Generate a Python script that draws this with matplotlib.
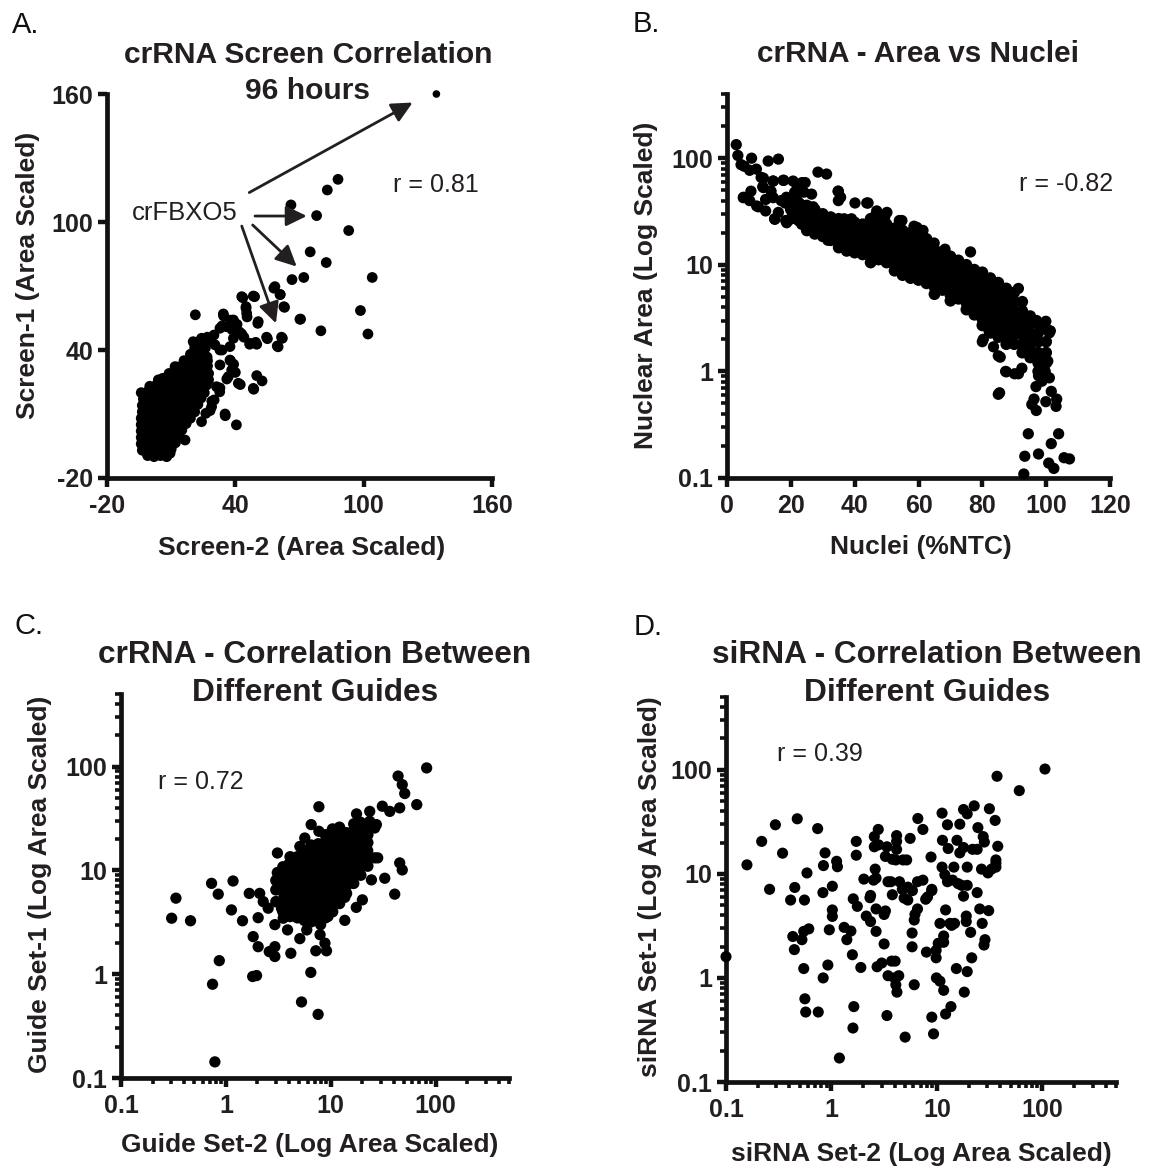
#!/usr/bin/env python3
"""
Four-panel scatter figure: crRNA / siRNA screen correlations.
"""

import numpy as np
import matplotlib
matplotlib.use("Agg")
import matplotlib.pyplot as plt
from matplotlib.ticker import LogLocator, NullFormatter

plt.rcParams['font.family'] = ['Liberation Sans', 'DejaVu Sans']
plt.rcParams['axes.unicode_minus'] = False

W, H = 1156, 1166
INK = '#231f20'

# ---------------- Panel A: Screen-1 vs Screen-2 (linear) ----------------
a_ticks = [-20, 40, 100, 160]
a_top_point = [(134, 160)]
a_outliers = [
    (88, 120), (83, 115), (66, 108), (78, 103), (93, 96), (75, 86), (82.5, 81),
    (66.5, 73), (72, 74), (104, 74), (58, 69), (61, 66), (43.5, 64.5), (49, 65),
    (63, 60), (45, 59.5), (21.3, 56.5), (34.5, 56), (70.5, 54.5), (98.5, 58.5),
    (39, 54), (45.5, 55.5), (50.5, 52.5), (80, 49), (102, 47.5), (55, 45.3),
    (62, 45.5), (60, 41.5), (50, 42.7), (46.7, 42.7), (44, 46), (42, 48.4),
    (37.7, 54), (40.8, 52), (38.4, 49.6), (33.8, 51.3), (30, 47), (28, 45.3),
    (25.2, 42.7), (20.8, 43.2), (23.6, 39.3), (26.8, 36.7), (33.8, 40), (37.7, 35),
    (39.2, 33.3), (36, 26.4), (42.3, 23.8), (32.7, 20.4), (50, 28), (52.5, 25.5),
    (48.6, 21.6), (29, 16), (35.3, 9.2), (40.5, 4.9), (19, 33.3), (23.6, 31.5),
    (11.6, 29.8), (20.3, 43.9), (24.2, 45.5), (11.8, 32.2), (19.1, 33.4), (6, 26.7),
    (32.8, 22.2), (35.2, 10), (28.2, 11.6), (48.4, 22), (41.4, 24.4), (43, 65),
    (48.4, 65.3), (58.5, 69.7), (60.9, 66), (62.7, 60.3), (70.2, 54.4), (34.4, 56.9),
    (39.1, 54), (35.9, 50.9), (45, 60.3), (45.3, 57.2), (50.7, 53.3), (54.6, 46),
    (61.6, 46), (59.6, 41.9), (49.5, 43.6), (46.9, 43.1), (43, 47.5), (39.1, 45.5),
    (32.8, 50.2), (37.5, 41.6), (32.8, 40), (30.5, 42.4), (26.9, 46), (37.5, 35.3),
    (38.3, 30.6), (32.8, 33), (40, 29.5), (36.7, 27.5), (31.2, 22.8), (30.1, 16.6),
    (28.9, 13.4), (26.2, 10.3), (24.2, 6.4), (16.5, -2.2), (9.5, -8.4), (7.9, -10),
]
a_core = [
    (-1, -9.5), (2, -10), (5, -9.5), (8, -9),
    (-3.5, -7), (-0.5, -7.5), (2.5, -7), (5.5, -6.5), (8, -7), (10, -6.5),
    (-4, -4), (-1, -4.5), (2, -4), (5, -3.5), (8, -4), (10.5, -4.5), (12, -3.5),
    (-4, -1), (-1, -0.5), (2, -1), (5, -1.5), (8, -1), (11, -0.5), (13.5, -1),
    (-4, 2), (-1, 2.5), (2, 2), (5, 1.5), (8, 2), (11, 2.5), (13, 2), (15, 2.5),
    (-4, 5), (-1, 5.5), (2, 5), (5, 4.5), (8, 5), (11, 5.5), (14, 5), (17, 5.5),
    (-4, 8), (-1, 8.5), (2, 8), (5, 7.5), (8, 8), (11, 8.5), (14, 8), (16.5, 8.5), (19, 8),
    (-3.5, 11), (-0.5, 11.5), (2.5, 11), (5.5, 10.5), (8.5, 11), (11.5, 11.5),
    (14.5, 11), (17.5, 11.5), (21, 11),
    (-3.5, 14), (-0.5, 14.5), (2.5, 14), (5.5, 13.5), (8.5, 14), (11.5, 14.5),
    (14.5, 14), (17.5, 14.5), (20, 14), (22.5, 14.5),
    (-3, 17), (0, 17.5), (3, 17), (6, 16.5), (9, 17), (12, 17.5), (15, 17),
    (18, 17.5), (21, 17), (24, 17.5),
    (-4, 20), (-1, 20.5), (2, 20), (5, 19.5), (8, 20), (11, 20.5), (14, 20),
    (17, 20.5), (20, 20), (23, 20.5), (25.5, 20),
    (0, 23), (3, 23.5), (6, 23), (9, 22.5), (12, 23), (15, 23.5), (18, 23),
    (21, 23.5), (24, 23), (26.5, 23.5),
    (4, 26), (7, 26.5), (10, 26), (13, 25.5), (16, 26), (19, 26.5), (22, 26),
    (25, 26.5), (27.5, 26),
    (9, 29), (12, 29.5), (15, 29), (18, 28.5), (21, 29), (24, 29.5), (27.5, 29),
    (13, 32), (16, 32.5), (19, 32), (22, 31.5), (25, 32), (27, 32.5),
    (16, 35), (19, 35.5), (22, 35), (25, 34.5), (27, 35),
    (19, 38), (22, 38.5), (25.5, 38),
    (21, 41), (24, 41.5), (26, 41),
    (23, 44), (27, 44.5),
]
a_arrows = [
    ((46.5, 113.8), (122.9, 156.0)),
    ((49.2, 102.8), (73.4, 102.8)),
    ((48.1, 98.6), (68.7, 79.1)),
    ((43.0, 98.1), (59.0, 52.5)),
]

# ---------------- Panel B: nuclear area vs nuclei ----------------
b_xticks = [0, 20, 40, 60, 80, 100, 120]
b_yticks = [0.1, 1, 10, 100]
b_outliers = [
    (2.9, 134), (3.4, 106), (4.4, 87), (5.4, 84), (7.1, 77), (7.7, 100), (9.2, 79),
    (12.9, 94), (16.1, 98), (10.7, 66), (11.2, 54), (14.4, 61), (17.8, 62),
    (5.2, 43), (7.5, 49), (7.1, 40), (9.8, 35), (12.1, 41), (13.8, 49), (12.1, 32),
    (14.9, 27), (16.1, 31), (17, 40), (18.6, 43), (18.4, 26), (20.7, 61), (21.2, 48),
    (20.7, 38), (23, 37), (23.5, 59), (24.1, 48), (22, 31), (24.1, 31), (23.9, 24),
    (25.8, 28), (27, 35), (28.5, 74), (31.2, 71), (28.7, 27), (29.3, 23), (29.9, 29),
    (32.1, 24), (34.4, 25), (34.8, 49), (35.6, 43), (36.7, 27), (39, 27), (31.6, 17),
    (34.4, 18), (44.2, 38), (46.5, 29), (49.4, 28), (54, 26), (46.9, 25), (58.6, 23),
    (61.4, 21), (64.9, 16), (76.3, 13.2), (68.3, 14), (72.9, 10.4), (79.2, 5.8),
    (91.3, 6.0), (82.1, 2.4), (80, 1.9), (85, 1.4), (85, 0.61), (87.3, 1.0),
    (90.1, 0.95), (92.4, 1.07), (97, 3.0), (101, 2.3), (99.9, 2.95), (96.4, 2.16),
    (99.3, 1.3), (100.5, 1.25), (97.6, 0.91), (99.7, 1.0), (101, 0.87), (98.7, 0.81),
    (96.8, 0.72), (101.6, 0.65), (96.2, 0.55), (95.5, 0.49), (96.9, 0.43), (99.9, 0.52),
    (103.3, 0.55), (103.1, 0.47), (94.4, 0.26), (103.9, 0.26), (101.6, 0.21),
    (93.3, 0.16), (97.6, 0.168), (100.8, 0.138), (102.4, 0.123), (105.6, 0.155),
    (107.3, 0.151), (93, 0.109),
    (11.4, 65), (14.5, 61), (17.6, 62), (24.5, 59), (26.5, 46), (34.9, 49), (34.9, 40),
    (40.1, 38), (43.8, 38), (46.9, 32), (50.1, 31), (54.8, 26), (59.5, 22.4), (61, 20.8),
    (5.1, 42.6), (9.3, 35.6), (11.4, 53), (14.5, 42.6), (15, 26.7), (18.7, 24.8),
    (18.2, 38), (21.8, 41), (21.8, 57), (23.9, 34), (27, 33), (29.2, 22), (31.8, 17.4),
    (23.4, 24), (101.3, 2.4), (80.3, 2.0), (83.5, 1.7), (85.6, 1.36), (87.5, 0.99),
    (85.4, 0.63), (91.3, 0.95),
]
b_band = [
    (20, [40, 33, 27]),
    (22.5, [38, 31, 26]),
    (25, [36, 30, 25, 21]),
    (27.5, [33, 28, 23, 19.5]),
    (30, [30, 26, 22, 18.5]),
    (32.5, [28, 24, 20.5, 17]),
    (35, [27, 23, 19.5, 16, 14.5]),
    (37.5, [26, 22, 18.5, 15.5, 13.5]),
    (40, [25, 21, 17.5, 15, 13]),
    (42.5, [24, 20, 17, 14.5, 12.5]),
    (45, [27, 23, 19.5, 16.5, 14, 12, 10.5]),
    (47.5, [25.5, 22, 18.5, 15.5, 13, 11.2]),
    (50, [24, 21, 18, 15, 12.5, 10.5]),
    (52.5, [22, 19, 16.5, 14, 12, 10, 8.8]),
    (55, [21, 18, 15.5, 13, 11, 9.5, 8]),
    (57.5, [20, 17, 14.5, 12.5, 10.5, 9, 7.5]),
    (60, [19, 16, 13.5, 11.5, 10, 8.5, 7.2]),
    (62.5, [17.5, 15, 13, 11, 9.3, 8, 6.7]),
    (65, [14, 12, 10.2, 8.7, 7.4, 6.2, 5.3]),
    (67.5, [13, 11, 9.5, 8, 6.8, 5.8]),
    (70, [12, 10, 8.6, 7.3, 6.2, 5.2, 4.6]),
    (72.5, [11, 9.3, 7.9, 6.7, 5.7, 4.8]),
    (75, [10, 8.5, 7.2, 6.1, 5.2, 4.4, 3.8]),
    (77.5, [9, 7.6, 6.5, 5.5, 4.7, 4, 3.4]),
    (80, [8.5, 7, 6, 5, 4.3, 3.6, 3.1, 2.7]),
    (82.5, [7.5, 6.3, 5.3, 4.5, 3.8, 3.2, 2.7, 2.3]),
    (85, [6.8, 5.7, 4.8, 4, 3.4, 2.9, 2.5, 2.1]),
    (87.5, [6, 5, 4.2, 3.5, 3, 2.5, 2.1, 1.8]),
    (90, [5.5, 4.5, 3.7, 3.1, 2.6, 2.2, 1.8]),
    (92.5, [4.5, 3.7, 3.1, 2.6, 2.2, 1.8, 1.5]),
    (95, [3.3, 2.8, 2.3, 1.9, 1.6, 1.35]),
    (97.5, [2.8, 2.3, 1.9, 1.5, 1.2, 1.0]),
    (100, [2.5, 1.9, 1.5, 1.2]),
]

# ---------------- Panel C: crRNA guide sets (log-log) ----------------
log_ticks = [0.1, 1, 10, 100]
log_labels = ['0.1', '1', '10', '100']
c_core = [
    (3.0, 5.0), (3.0, 6.5), (3.0, 8.0), (3.1, 9.5),
    (3.5, 4.0), (3.5, 4.8), (3.6, 5.6), (3.5, 6.6), (3.5, 7.8), (3.6, 9.2), (3.5, 10.8),
    (4.1, 3.6), (4.1, 4.3), (4.0, 5.1), (4.1, 6.0), (4.2, 7.0), (4.1, 8.3), (4.1, 9.8),
    (4.0, 11.5), (4.1, 13.5),
    (4.8, 3.5), (4.8, 4.2), (4.7, 5.0), (4.8, 6.0), (4.9, 7.0), (4.8, 8.3), (4.8, 9.8),
    (4.7, 11.5), (4.8, 13.5),
    (5.6, 3.3), (5.6, 4.0), (5.5, 4.8), (5.6, 5.7), (5.7, 6.8), (5.6, 8.0), (5.6, 9.5),
    (5.5, 11.2), (5.6, 13.2), (5.7, 15.5),
    (6.5, 3.2), (6.5, 3.8), (6.4, 4.5), (6.5, 5.4), (6.6, 6.4), (6.5, 7.6), (6.5, 9.0),
    (6.4, 10.7), (6.5, 12.7), (6.6, 15.0), (6.5, 17.5),
    (7.6, 3.3), (7.6, 3.9), (7.5, 4.6), (7.6, 5.5), (7.7, 6.5), (7.6, 7.7), (7.6, 9.1),
    (7.5, 10.8), (7.6, 12.8), (7.7, 15.2), (7.6, 18.0),
    (8.9, 3.5), (8.9, 4.2), (8.8, 5.0), (8.9, 5.9), (9.0, 7.0), (8.9, 8.3), (8.9, 9.8),
    (8.8, 11.6), (8.9, 13.7), (9.0, 16.2), (8.9, 19.0), (8.9, 22.0),
    (10.4, 4.0), (10.4, 4.8), (10.3, 5.7), (10.4, 6.8), (10.5, 8.0), (10.4, 9.5),
    (10.4, 11.2), (10.3, 13.2), (10.4, 15.6), (10.5, 18.5), (10.4, 21.5), (10.4, 25.0),
    (12.1, 4.8), (12.1, 5.7), (12.0, 6.7), (12.1, 8.0), (12.2, 9.5), (12.1, 11.2),
    (12.1, 13.2), (12.0, 15.6), (12.1, 18.5), (12.2, 22.0), (12.1, 26.0),
    (14.1, 6.0), (14.1, 7.1), (14.0, 8.4), (14.1, 10.0), (14.2, 11.8), (14.1, 14.0),
    (14.1, 16.5), (14.0, 19.5), (14.1, 23.0),
    (16.5, 7.5), (16.5, 8.9), (16.4, 10.5), (16.5, 12.5), (16.6, 14.8), (16.5, 17.5),
    (16.5, 20.5), (16.5, 24.0), (16.6, 28.0),
    (19.3, 9.0), (19.3, 10.7), (19.2, 12.7), (19.3, 15.0), (19.4, 17.8), (19.3, 21.0),
    (19.3, 25.0), (19.2, 29.0),
    (22.5, 11.0), (22.5, 13.0), (22.4, 15.5), (22.5, 18.5), (22.5, 22.0), (22.6, 26.0),
]
c_outliers = [
    (82, 97), (43.8, 81), (48, 67), (50.7, 55), (66, 43), (45.4, 40), (36.5, 37),
    (31, 41.5), (23.5, 37), (17.6, 35), (23.5, 29.7), (27.2, 27.6), (26.2, 25.6),
    (7.7, 41), (6.5, 27.6), (7.7, 23.8), (5.65, 20.5), (5.07, 17), (3.1, 14.7),
    (26.2, 13.2), (28, 13.2), (45.4, 11.8), (48, 10.1), (24.4, 8.1), (32.7, 8.4),
    (40.7, 5.9), (20, 5.2), (13.6, 3.3), (9.4, 3.6), (8, 3.0), (7.9, 2.4), (5.07, 2.2),
    (5.9, 2.67), (4.16, 1.59), (2.93, 1.84), (2.59, 1.65), (2.93, 1.48), (2.03, 1.84),
    (1.82, 2.3), (1.44, 3.27), (2.03, 3.5), (1.67, 6.0), (1.13, 4.16), (1.17, 7.9),
    (0.845, 5.9), (0.73, 7.5), (0.334, 5.4), (0.304, 3.46), (0.46, 3.27), (0.865, 1.35),
    (0.746, 0.8), (1.8, 0.95), (1.96, 0.97), (6.45, 1.04), (8.8, 1.99), (9.1, 1.68),
    (7.2, 1.68), (5.26, 0.54), (7.57, 0.41), (0.785, 0.143), (3.87, 2.67), (2.1, 6.0),
    (2.27, 5.0), (2.53, 4.32), (2.93, 3.0), (3.52, 3.46), (3.39, 4.3), (13.6, 5.5),
    (17.5, 4.4),
]

# ---------------- Panel D: siRNA sets (log-log) ----------------
d_points = [
    (0.1, 1.6), (0.158, 12.2), (0.218, 20.5), (0.259, 7.1), (0.294, 29.6), (0.344, 15.8),
    (0.474, 33.8), (0.449, 7.4), (0.41, 5.6), (0.43, 2.5), (0.445, 1.87), (0.525, 2.33),
    (0.546, 2.8), (0.555, 5.6), (0.586, 10.2), (0.61, 2.96), (0.546, 1.23), (0.56, 0.63),
    (0.57, 0.47), (0.75, 0.47), (0.74, 27.2), (0.87, 15.9), (0.84, 12.0), (1.12, 13.2),
    (1.14, 11.7), (0.83, 6.6), (1.02, 7.6), (1.02, 4.5), (1.02, 3.9), (0.955, 2.9),
    (0.925, 1.33), (0.835, 1.0), (1.32, 3.06), (1.4, 2.33), (1.53, 2.82), (1.58, 1.67),
    (1.72, 20.5), (1.72, 15.1), (1.61, 5.75), (1.76, 4.87), (1.9, 1.26), (1.63, 0.53),
    (1.6, 0.33), (1.19, 0.17), (2.03, 8.9), (2.32, 5.9), (2.14, 3.93), (2.35, 3.48),
    (2.35, 6.2), (2.55, 22.8), (2.78, 26.7), (2.55, 18.2), (2.8, 19.0), (2.6, 11.1),
    (2.51, 8.7), (2.65, 9.1), (2.65, 4.6), (2.65, 2.8), (3.16, 4.07), (3.16, 2.12),
    (2.71, 1.28), (3.0, 1.39), (3.36, 18.2), (3.25, 14.7), (3.44, 8.4), (3.25, 4.4),
    (3.36, 0.435), (3.66, 8.4), (3.78, 13.8), (4.15, 23.3), (4.15, 20.5), (4.15, 17.2),
    (4.08, 13.6), (4.42, 8.4), (3.78, 6.3), (4.02, 1.45), (3.72, 1.45), (3.44, 1.05),
    (3.96, 1.0), (4.35, 1.05), (4.08, 0.86), (4.18, 0.73), (4.78, 13.6), (5.17, 13.6),
    (4.7, 7.1), (4.89, 5.85), (5.3, 5.6), (5.0, 0.27), (5.58, 21.9), (5.3, 7.45),
    (5.86, 6.9), (6.6, 34.0), (7.37, 26.7), (5.82, 2.7), (5.82, 1.99), (6.2, 4.08),
    (6.55, 4.6), (6.1, 3.6), (6.1, 0.86), (7.37, 8.7), (6.55, 8.4), (8.8, 14.5),
    (7.83, 5.7), (8.15, 6.0), (8.95, 7.1), (8.95, 6.9), (7.96, 1.77), (9.84, 1.84),
    (9.84, 1.56), (8.95, 0.42), (9.3, 0.29), (9.9, 1.0), (10.7, 0.93), (11.6, 0.76),
    (12.1, 0.45), (13.6, 0.53), (11.2, 38.3), (12.6, 29.6), (11.3, 21.0), (12.8, 17.5),
    (11.2, 11.6), (11.9, 9.8), (12.6, 8.4), (14.1, 8.7), (14.5, 11.6), (15.9, 8.05),
    (12.1, 4.5), (10.7, 3.34), (11.6, 2.53), (10.3, 2.15), (11.6, 2.2), (13.3, 3.34),
    (14.7, 3.34), (13.8, 3.2), (15.3, 1.23), (16.5, 30.0), (16.5, 15.9), (15.5, 21.0),
    (17.9, 41.5), (19.4, 37.7), (17.9, 17.9), (17.2, 7.75), (17.9, 6.1), (19.4, 7.75),
    (19.4, 11.6), (19.0, 3.93), (19.0, 3.48), (20.9, 2.74), (19.4, 1.15), (18.2, 0.73),
    (21.4, 1.56), (21.8, 17.2), (22.6, 45.0), (24.1, 17.2), (24.5, 27.8), (24.1, 6.6),
    (25.5, 4.6), (26.5, 11.1), (27.5, 22.8), (28.2, 20.2), (26.9, 3.34), (28.6, 2.33),
    (28.0, 2.07), (31.0, 4.43), (31.5, 42.2), (30.5, 10.2), (33.0, 11.1), (35.7, 32.6),
    (36.3, 13.6), (36.3, 12.6), (36.3, 11.6), (37.8, 18.4), (37.2, 86.6), (60.5, 63.0),
    (106, 101.6),
]


def fx(px):
    return px / W


def fy(py):
    return 1 - py / H


def unzip(pairs):
    xs = [p[0] for p in pairs]
    ys = [p[1] for p in pairs]
    return xs, ys


def style_axes(ax):
    """GraphPad-like thick axes"""
    for side in ['top', 'right']:
        ax.spines[side].set_visible(False)
    for side in ['left', 'bottom']:
        ax.spines[side].set_linewidth(3.4)
        ax.spines[side].set_color('#111111')
        ax.spines[side].set_capstyle('projecting')
    ax.tick_params(which='major', direction='out', length=6.5, width=3.2,
                   color='#111111', labelsize=18, labelcolor=INK)
    ax.tick_params(which='minor', direction='out', length=4.5, width=2.6,
                   color='#111111')
    ax.tick_params(axis='x', which='major', pad=5)
    ax.tick_params(axis='y', which='major', pad=3.5)
    ax.set_facecolor('none')


def log_axis(axis, ticks, labels):
    axis.set_major_locator(plt.FixedLocator(ticks))
    axis.set_minor_locator(LogLocator(base=10, subs=np.arange(2, 10), numticks=30))
    axis.set_minor_formatter(NullFormatter())


def bold_ticklabels(ax):
    for lab in ax.get_xticklabels() + ax.get_yticklabels():
        lab.set_fontweight('bold')


def scatter(ax, pairs, size=60):
    xs, ys = unzip(pairs)
    ax.scatter(xs, ys, s=size, c='black', edgecolors='none', clip_on=False, zorder=3)


def plot_panel_a(fig):
    ax = fig.add_axes([fx(107), fy(478), fx(492) - fx(107), fy(94) - fy(478)])
    style_axes(ax)
    scatter(ax, a_core, 60)
    scatter(ax, a_outliers, 60)
    scatter(ax, a_top_point, 30)
    ax.set_xlim(-20, 160)
    ax.set_ylim(-20, 160)
    ax.set_xticks(a_ticks)
    ax.set_yticks(a_ticks)
    bold_ticklabels(ax)
    for start, tip in a_arrows:
        ax.annotate('', xy=tip, xytext=start,
                    arrowprops=dict(arrowstyle='-|>,head_length=0.45,head_width=0.22',
                                    mutation_scale=28, lw=2, color=INK,
                                    shrinkA=0, shrinkB=0))
    return ax


def plot_panel_b(fig):
    ax = fig.add_axes([fx(727), fy(478), fx(1110) - fx(727), fy(94) - fy(478)])
    style_axes(ax)
    band = [(x, y) for x, ys in b_band for y in ys]
    scatter(ax, band, 72)
    scatter(ax, b_outliers, 66)
    ax.set_xlim(0, 120)
    ax.set_yscale('log')
    ax.set_ylim(0.1, 400)
    ax.set_xticks(b_xticks)
    log_axis(ax.yaxis, b_yticks, log_labels)
    ax.set_yticklabels(log_labels)
    bold_ticklabels(ax)
    return ax


def plot_panel_c(fig):
    ax = fig.add_axes([fx(121), fy(1078), fx(509) - fx(121), fy(694) - fy(1078)])
    style_axes(ax)
    scatter(ax, c_core, 70)
    scatter(ax, c_outliers, 66)
    ax.set_xscale('log')
    ax.set_yscale('log')
    ax.set_xlim(0.1, 500)
    ax.set_ylim(0.1, 500)
    log_axis(ax.xaxis, log_ticks, log_labels)
    log_axis(ax.yaxis, log_ticks, log_labels)
    ax.set_xticklabels(log_labels)
    ax.set_yticklabels(log_labels)
    bold_ticklabels(ax)
    return ax


def plot_panel_d(fig):
    ax = fig.add_axes([fx(726), fy(1082), fx(1116) - fx(726), fy(697) - fy(1082)])
    style_axes(ax)
    scatter(ax, d_points, 64)
    ax.set_xscale('log')
    ax.set_yscale('log')
    ax.set_xlim(0.1, 500)
    ax.set_ylim(0.1, 500)
    log_axis(ax.xaxis, log_ticks, log_labels)
    log_axis(ax.yaxis, log_ticks, log_labels)
    ax.set_xticklabels(log_labels)
    ax.set_yticklabels(log_labels)
    bold_ticklabels(ax)
    return ax


def add_texts(fig):
    title_kw = dict(ha='center', va='center', fontweight='bold',
                    color=INK, linespacing=1.32)
    label_kw = dict(ha='center', va='center', fontsize=19, fontweight='bold', color=INK)
    plain_kw = dict(ha='left', va='center', fontsize=18, color=INK)

    # panel letters
    for letter, (px, py) in zip(['A.', 'B.', 'C.', 'D.'],
                                [(12, 25), (633, 24), (15, 626), (634, 627)]):
        fig.text(fx(px), fy(py), letter, ha='left', va='center', fontsize=21, color='#111111')

    # titles
    fig.text(fx(308), fy(73), 'crRNA Screen Correlation\n96 hours', fontsize=21.6, **title_kw)
    fig.text(fx(918), fy(54), 'crRNA - Area vs Nuclei', fontsize=21.4, **title_kw)
    fig.text(fx(315), fy(674), 'crRNA - Correlation Between\nDifferent Guides',
             fontsize=22.8, **title_kw)
    fig.text(fx(927), fy(674), 'siRNA - Correlation Between\nDifferent Guides',
             fontsize=22.8, **title_kw)

    # axis labels
    fig.text(fx(302), fy(548), 'Screen-2 (Area Scaled)', **label_kw)
    fig.text(fx(28), fy(275), 'Screen-1 (Area Scaled)', rotation=90, **label_kw)
    fig.text(fx(921), fy(547), 'Nuclei (%NTC)', **label_kw)
    fig.text(fx(646), fy(285), 'Nuclear Area (Log Scaled)', rotation=90, **label_kw)
    fig.text(fx(310), fy(1145), 'Guide Set-2 (Log Area Scaled)', **label_kw)
    fig.text(fx(40), fy(884), 'Guide Set-1 (Log Area Scaled)', rotation=90, **label_kw)
    fig.text(fx(921), fy(1154), 'siRNA Set-2 (Log Area Scaled)', **label_kw)
    fig.text(fx(650), fy(887), 'siRNA Set-1 (Log Area Scaled)', rotation=90, **label_kw)

    # correlation annotations
    fig.text(fx(393), fy(185), 'r = 0.81', **plain_kw)
    fig.text(fx(1019), fy(184), 'r = -0.82', **plain_kw)
    fig.text(fx(158), fy(782), 'r = 0.72', **plain_kw)
    fig.text(fx(777), fy(754), 'r = 0.39', **plain_kw)
    fig.text(fx(132), fy(213), 'crFBXO5', ha='left', va='center', fontsize=18.5, color=INK)


def main():
    fig = plt.figure(figsize=(W / 100, H / 100), dpi=100)
    plot_panel_a(fig)
    plot_panel_b(fig)
    plot_panel_c(fig)
    plot_panel_d(fig)
    add_texts(fig)
    fig.savefig('out.png', dpi=100, facecolor='white')


if __name__ == "__main__":
    main()
